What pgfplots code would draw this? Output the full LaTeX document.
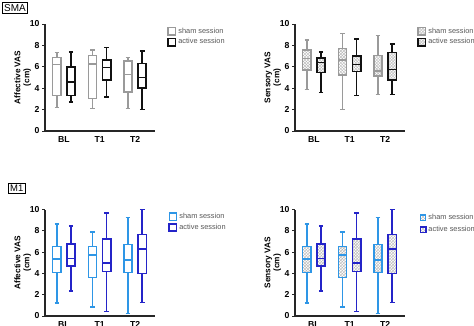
\documentclass[border=0pt]{standalone}
\usepackage{fontspec}
\setmainfont{Liberation Sans}
\usepackage{pgfplots}
\pgfplotsset{compat=1.18}
\usepgfplotslibrary{statistics}
\usetikzlibrary{patterns}
\definecolor{shamgray}{HTML}{9A9A9A}
\definecolor{activeblack}{HTML}{111111}
\definecolor{shamblue}{HTML}{2E96E6}
\definecolor{activeblue}{HTML}{2424C8}
\definecolor{legtext}{HTML}{555555}
\pgfplotsset{
  panel/.style={
    scale only axis, width=110bp, height=107bp,
    xmin=-0.535, xmax=2.56, ymin=0, ymax=10,
    axis lines*=left,
    axis line style={line width=1.1pt, black!85},
    ytick={0,2,4,6,8,10},
    xtick={0,1,2}, xticklabels={BL,T1,T2},
    major tick length=3bp,
    tick style={line width=1pt, black!85},
    xtick style={draw=none},
    tick align=outside,
    /pgf/number format/assume math mode=true,
    ticklabel style={font=\bfseries\fontsize{8.7}{9}\selectfont},
    yticklabel style={xshift=1bp},
    xticklabel style={yshift=1bp},
    ylabel style={align=center, font=\bfseries\fontsize{8.3}{9}\selectfont, yshift=-8bp},
    legend style={draw=none, fill=none, anchor=north west, inner sep=0pt,
      font=\fontsize{7.4}{8}\selectfont, text=legtext, row sep=0pt,
      cells={anchor=west}},
    boxplot/draw direction=y,
    clip=false,
  },
  sq/.style={legend image code/.code={\draw[##1] (0bp,-3.7bp) rectangle (7.5bp,3.7bp);}},
  sqs/.style={legend image code/.code={\draw[##1] (0bp,-2.8bp) rectangle (5.5bp,2.8bp);}},
  bx/.style={boxplot prepared={box extend=0.23, whisker extend=0.13}},
  shamG/.style={draw=shamgray, line width=1.3pt, solid, fill=white},
  actK/.style={draw=activeblack, line width=1.6pt, solid, fill=white},
  shamB/.style={draw=shamblue, line width=1.3pt, solid, fill=white},
  actB/.style={draw=activeblue, line width=1.5pt, solid, fill=white},
  hatch/.style={pattern=crosshatch, pattern color=gray!55},
}
\begin{document}
\begin{tikzpicture}
\useasboundingbox (0bp,-326bp) rectangle (474bp,0bp);
\node[draw, line width=0.8pt, inner sep=1.8pt, anchor=north west, font=\fontsize{10}{11}\selectfont] at (2bp,-2bp) {SMA};
\node[draw, line width=0.8pt, inner sep=1.8pt, anchor=north west, font=\fontsize{9.5}{10}\selectfont] at (8bp,-183bp) {M1};

% ---------- SMA affective ----------
\begin{axis}[panel, at={(45bp,-131bp)}, anchor=south west,
  ylabel={Affective VAS\\(cm)},
  legend style={at={(1.11,0.985)}},
  legend entries={sham session, active session}]
\addlegendimage{sq, shamG}
\addlegendimage{sq, actK}
\addplot[bx, shamG, boxplot prepared={draw position=-0.2, lower whisker=2.2, lower quartile=3.3, median=6.23, upper quartile=6.88, upper whisker=7.35}] coordinates {};
\addplot[bx, actK, boxplot prepared={draw position=0.2, lower whisker=2.7, lower quartile=3.3, median=4.6, upper quartile=6.0, upper whisker=7.41}] coordinates {};
\addplot[bx, shamG, boxplot prepared={draw position=0.8, lower whisker=2.09, lower quartile=3.05, median=6.26, upper quartile=7.04, upper whisker=7.57}] coordinates {};
\addplot[bx, actK, boxplot prepared={draw position=1.2, lower whisker=3.2, lower quartile=4.77, median=5.92, upper quartile=6.64, upper whisker=7.79}] coordinates {};
\addplot[bx, shamG, boxplot prepared={draw position=1.8, lower whisker=2.09, lower quartile=3.64, median=5.3, upper quartile=6.54, upper whisker=6.88}] coordinates {};
\addplot[bx, actK, boxplot prepared={draw position=2.2, lower whisker=2.0, lower quartile=4.0, median=5.0, upper quartile=6.32, upper whisker=7.48}] coordinates {};
\end{axis}

% ---------- SMA sensory ----------
\begin{axis}[panel, at={(295bp,-131bp)}, anchor=south west,
  ylabel={Sensory VAS\\(cm)},
  legend style={at={(1.11,0.985)}},
  legend entries={sham session, active session}]
\addlegendimage{sq, shamG, hatch}
\addlegendimage{sq, actK, hatch}
\addplot[bx, shamG, hatch, boxplot prepared={draw position=-0.2, lower whisker=3.9, lower quartile=5.7, median=6.79, upper quartile=7.57, upper whisker=8.5}] coordinates {};
\addplot[bx, actK, hatch, boxplot prepared={draw position=0.2, lower whisker=3.6, lower quartile=5.45, median=6.39, upper quartile=6.85, upper whisker=7.41}] coordinates {};
\addplot[bx, shamG, hatch, boxplot prepared={draw position=0.8, lower whisker=2.0, lower quartile=5.23, median=6.64, upper quartile=7.73, upper whisker=9.13}] coordinates {};
\addplot[bx, actK, hatch, boxplot prepared={draw position=1.2, lower whisker=3.3, lower quartile=5.55, median=6.23, upper quartile=7.0, upper whisker=8.6}] coordinates {};
\addplot[bx, shamG, hatch, boxplot prepared={draw position=1.8, lower whisker=3.43, lower quartile=5.14, median=5.6, upper quartile=7.07, upper whisker=8.9}] coordinates {};
\addplot[bx, actK, hatch, boxplot prepared={draw position=2.2, lower whisker=3.43, lower quartile=4.77, median=5.76, upper quartile=7.35, upper whisker=8.13}] coordinates {};
\end{axis}

% ---------- M1 affective ----------
\begin{axis}[panel, at={(45bp,-316bp)}, anchor=south west, height=106.5bp,
  ylabel={Affective VAS\\(cm)},
  legend style={at={(1.12,0.985)}},
  legend entries={sham session, active session}]
\addlegendimage{sq, shamB}
\addlegendimage{sq, actB}
\addplot[bx, shamB, boxplot prepared={draw position=-0.2, lower whisker=1.22, lower quartile=4.06, median=5.34, upper quartile=6.53, upper whisker=8.63}] coordinates {};
\addplot[bx, actB, boxplot prepared={draw position=0.2, lower whisker=2.34, lower quartile=4.69, median=5.4, upper quartile=6.78, upper whisker=8.44}] coordinates {};
\addplot[bx, shamB, boxplot prepared={draw position=0.8, lower whisker=0.84, lower quartile=3.6, median=5.72, upper quartile=6.53, upper whisker=7.88}] coordinates {};
\addplot[bx, actB, boxplot prepared={draw position=1.2, lower whisker=0.44, lower quartile=4.19, median=5.0, upper quartile=7.25, upper whisker=9.66}] coordinates {};
\addplot[bx, shamB, boxplot prepared={draw position=1.8, lower whisker=0.25, lower quartile=4.06, median=5.25, upper quartile=6.72, upper whisker=9.25}] coordinates {};
\addplot[bx, actB, boxplot prepared={draw position=2.2, lower whisker=1.25, lower quartile=3.97, median=6.31, upper quartile=7.66, upper whisker=10.0}] coordinates {};
\end{axis}

% ---------- M1 sensory ----------
\begin{axis}[panel, at={(295bp,-316bp)}, anchor=south west, height=106.5bp,
  ylabel={Sensory VAS\\(cm)},
  legend style={at={(1.13,0.975)}, row sep=1pt},
  legend entries={sham session, active session}]
\addlegendimage{sqs, shamB, hatch}
\addlegendimage{sqs, actB, hatch}
\addplot[bx, shamB, hatch, boxplot prepared={draw position=-0.2, lower whisker=1.22, lower quartile=4.06, median=5.34, upper quartile=6.53, upper whisker=8.63}] coordinates {};
\addplot[bx, actB, hatch, boxplot prepared={draw position=0.2, lower whisker=2.34, lower quartile=4.69, median=5.4, upper quartile=6.78, upper whisker=8.44}] coordinates {};
\addplot[bx, shamB, hatch, boxplot prepared={draw position=0.8, lower whisker=0.84, lower quartile=3.6, median=5.72, upper quartile=6.53, upper whisker=7.88}] coordinates {};
\addplot[bx, actB, hatch, boxplot prepared={draw position=1.2, lower whisker=0.44, lower quartile=4.19, median=5.0, upper quartile=7.25, upper whisker=9.66}] coordinates {};
\addplot[bx, shamB, hatch, boxplot prepared={draw position=1.8, lower whisker=0.25, lower quartile=4.06, median=5.25, upper quartile=6.72, upper whisker=9.25}] coordinates {};
\addplot[bx, actB, hatch, boxplot prepared={draw position=2.2, lower whisker=1.25, lower quartile=3.97, median=6.31, upper quartile=7.66, upper whisker=10.0}] coordinates {};
\end{axis}
\end{tikzpicture}
\end{document}
